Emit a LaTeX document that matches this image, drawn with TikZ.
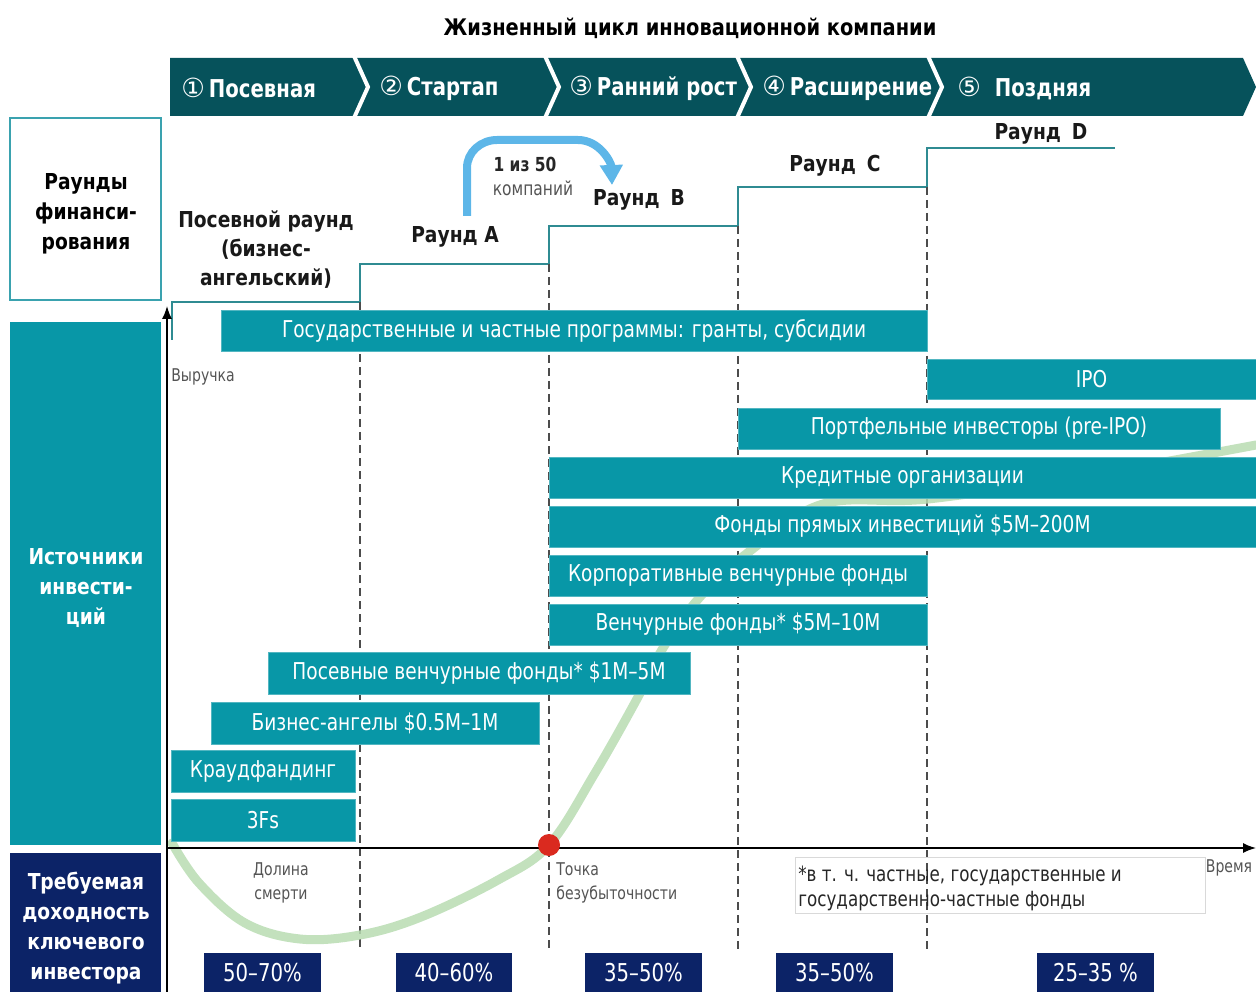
\documentclass[tikz,border=0pt]{standalone}
\usepackage{fontspec}
\setmainfont{DejaVu Sans}
\newfontfamily\condfont{DejaVu Sans}[FakeStretch=0.8]
\newfontfamily\headfont{DejaVu Sans}[FakeStretch=0.85]
\newfontfamily\symfont{DejaVu Sans}
\usetikzlibrary{arrows.meta,fit,positioning}
\definecolor{phaseteal}{HTML}{06525B}
\definecolor{barteal}{HTML}{0897A7}
\definecolor{stairteal}{HTML}{2F8B92}
\definecolor{boxedge}{HTML}{3AA2AF}
\definecolor{retnavy}{HTML}{0C2367}
\definecolor{valleygreen}{HTML}{B8DCB2}
\definecolor{hopblue}{HTML}{5DB6E8}
\definecolor{dotred}{HTML}{DA2A1F}
\definecolor{notegray}{HTML}{545454}
\tikzset{
  title text/.style={font=\headfont\bfseries\fontsize{13}{15}\selectfont,inner sep=0pt},
  phase band/.style={fill=phaseteal},
  phase cut/.style={draw=white,line width=0.8mm},
  phase label/.style={text=white,anchor=west,inner sep=0pt,
    font=\condfont\bfseries\fontsize{14}{16}\selectfont},
  side box/.style={inner sep=0pt,line width=0.4mm},
  side text/.style={align=center,inner sep=0pt,font=\headfont\bfseries\fontsize{12.5}{17}\selectfont},
  round text/.style={align=center,inner sep=0pt,text=black!90,font=\headfont\bfseries\fontsize{12.5}{16.5}\selectfont},
  stair line/.style={draw=stairteal,line width=0.4mm},
  phase line/.style={draw=black!70,line width=0.26mm,dash pattern=on 1.6mm off 1mm},
  hop arrow/.style={draw=hopblue,line width=1.6mm,-{Triangle[length=4mm,width=4.4mm]}},
  hop bold/.style={inner sep=0pt,text=black!85,font=\condfont\bfseries\fontsize{11}{13}\selectfont},
  hop small/.style={inner sep=0pt,text=notegray,font=\condfont\fontsize{11}{13}\selectfont},
  valley curve/.style={draw=valleygreen,line width=1.8mm,line cap=round,opacity=0.85},
  axis line/.style={draw=black,line width=0.3mm,-{Latex[length=2.6mm,width=2mm]}},
  axis text/.style={inner sep=0pt,text=notegray,font=\condfont\fontsize{10}{13.7}\selectfont},
  fund bar/.style={fill=barteal,draw=barteal!70!white,line width=0.15mm,inner sep=0pt},
  bar text/.style={inner sep=0pt,text=white,font=\condfont\fontsize{13.2}{15}\selectfont},
  red dot/.style={circle,fill=dotred,minimum size=4.4mm,inner sep=0pt},
  note box/.style={draw=black!15,line width=0.2mm,inner sep=0pt},
  note text/.style={align=left,inner sep=0pt,text=black!85,font=\condfont\fontsize{11.9}{14.2}\selectfont},
  pct box/.style={fill=retnavy,inner sep=0pt},
  pct text/.style={inner sep=0pt,text=white,font=\condfont\fontsize{14}{16}\selectfont}
}
\newcommand{\PhaseNum}[1]{{\symfont\mdseries\fontsize{15}{15}\selectfont#1}\kern0.8mm}
\newcommand{\FundBar}[6]{%
  \node[fund bar,fit={(#2,#3) (#4,#5)}] (#1) {};
  \node[bar text] (#1-txt) at (#1.center) {#6};}

\begin{document}
\begin{tikzpicture}[x=0.2mm,y=-0.2mm]
  \useasboundingbox (0,0) rectangle (1256,992);

  % title and phases
  \node[title text] (title) at (690,28) {Жизненный цикл инновационной компании};
  \fill[phase band] (170,58) -- (1243,58) -- (1256,87) -- (1243,116) -- (170,116) -- cycle;
  \foreach \x in {354,545,737,928}
    \draw[phase cut] (\x,56) -- (\x+14,87) -- (\x,118);
  \node[phase label] (ph1) at (181,88) {\PhaseNum{①}Посевная};
  \node[phase label] (ph2) at (379,88) {\PhaseNum{②}Стартап};
  \node[phase label] (ph3) at (569,88) {\PhaseNum{③}Ранний рост};
  \node[phase label] (ph4) at (762,88) {\PhaseNum{④}Расширение};
  \node[phase label] (ph5) at (957,88) {\PhaseNum{⑤}\hspace{2mm}Поздняя};

  % left column
  \node[side box,draw=boxedge,fill=white,fit={(10,118) (161,300)}] (rounds) {};
  \node[side text,text=black] (rounds-txt) at (86,214) {Раунды\\финанси-\\рования};
  \node[side box,fill=barteal,fit={(10,322) (161,845)}] (sources) {};
  \node[side text,text=white] (sources-txt) at (86,588) {Источники\\инвести-\\ций};
  \node[side box,fill=retnavy,fit={(10,853) (161,992)}] (returns) {};
  \node[side text,text=white] (returns-txt) at (86,928) {Требуемая\\доходность\\ключевого\\инвестора};

  % financing rounds
  \draw[stair line] (172,340) -- (172,302) -- (360,302) -- (360,264) -- (549,264) -- (549,226)
        -- (738,226) -- (738,187) -- (927,187) -- (927,148) -- (1115,148);
  \node[round text] (seedround) at (266,250) {Посевной раунд\\(бизнес-\\ангельский)};
  \node[round text] (roundA) at (455,237) {Раунд A};
  \node[round text] (roundB) at (639,200) {Раунд\enspace B};
  \node[round text] (roundC) at (835,166) {Раунд\enspace C};
  \node[round text] (roundD) at (1041,134) {Раунд\enspace D};

  \coordinate (hopstart) at (467,216);
  \coordinate (hopend) at (612,185);
  \draw[hop arrow] (hopstart) -- (467,168) to[out=90,in=180] (497,140) -- (578,140)
        to[out=0,in=92] (hopend);
  \node[hop bold] (hopnum) at (525,164) {1 из 50};
  \node[hop small] (hoptxt) at (533,188) {компаний};

  % phase borders
  \foreach \x/\ytop in {360/302,549/264,738/226,927/187}
    \draw[phase line] (\x,\ytop) -- (\x,950);

  % revenue curve
  \draw[valley curve] plot[smooth,tension=0.6] coordinates {(172,843) (199,883) (245,923)
        (300,939) (360,935) (421,917) (498,880) (549,845) (595,773) (638,697) (663,648)
        (700,597) (750,551) (823,504) (928,499) (1090,475) (1256,445)};

  % axes
  \coordinate (origin) at (167,848);
  \coordinate (ybottom) at (167,992);
  \coordinate (ytip) at (167,306);
  \coordinate (xtip) at (1256,848);
  \draw[axis line] (ybottom) -- (ytip);
  \draw[axis line] (origin) -- (xtip);
  \node[axis text,anchor=west] (revenue) at (171,377) {Выручка};
  \node[axis text] (time) at (1229,868) {Время};

  % investment sources
  \FundBar{gos}{221}{310}{927}{351}{Государственные и частные программы: гранты, субсидии}
  \FundBar{ipo}{927}{359}{1256}{399}{IPO}
  \FundBar{preipo}{738}{408}{1220}{449}{Портфельные инвесторы (pre-IPO)}
  \FundBar{credit}{549}{457}{1256}{498}{Кредитные организации}
  \FundBar{pe}{549}{506}{1256}{547}{Фонды прямых инвестиций \$5M–200M}
  \FundBar{cvc}{549}{555}{927}{596}{Корпоративные венчурные фонды}
  \FundBar{vc}{549}{604}{927}{645}{Венчурные фонды* \$5M–10M}
  \FundBar{seedvc}{268}{652}{690}{694}{Посевные венчурные фонды* \$1M–5M}
  \FundBar{angels}{211}{702}{539}{744}{Бизнес-ангелы \$0.5M–1M}
  \FundBar{crowd}{171}{750}{355}{792}{Краудфандинг}
  \FundBar{fff}{171}{799}{355}{841}{3Fs}

  \node[red dot] (breakeven) at (549,845) {};

  % bottom notes
  \node[axis text,align=center] (valley) at (281,883) {Долина\\смерти};
  \node[axis text,align=left,anchor=west] (bep) at (556,883) {Точка\\безубыточности};
  \node[note box,fit={(795,857) (1205,913)}] (note) {};
  \node[note text,anchor=west] (note-txt) at (798,888) {*в т. ч. частные, государственные и\\государственно-частные фонды};

  % required returns
  \foreach \name/\xa/\xb/\txt in {p1/204/321/50–70\%,p2/396/512/40–60\%,p3/585/702/35–50\%,
      p4/776/893/35–50\%,p5/1037/1154/25–35 \%} {
    \node[pct box,fit={(\xa,953) (\xb,992)}] (\name) {};
    \node[pct text] (\name-txt) at (\name.center) {\txt};
  }
\end{tikzpicture}
\end{document}
